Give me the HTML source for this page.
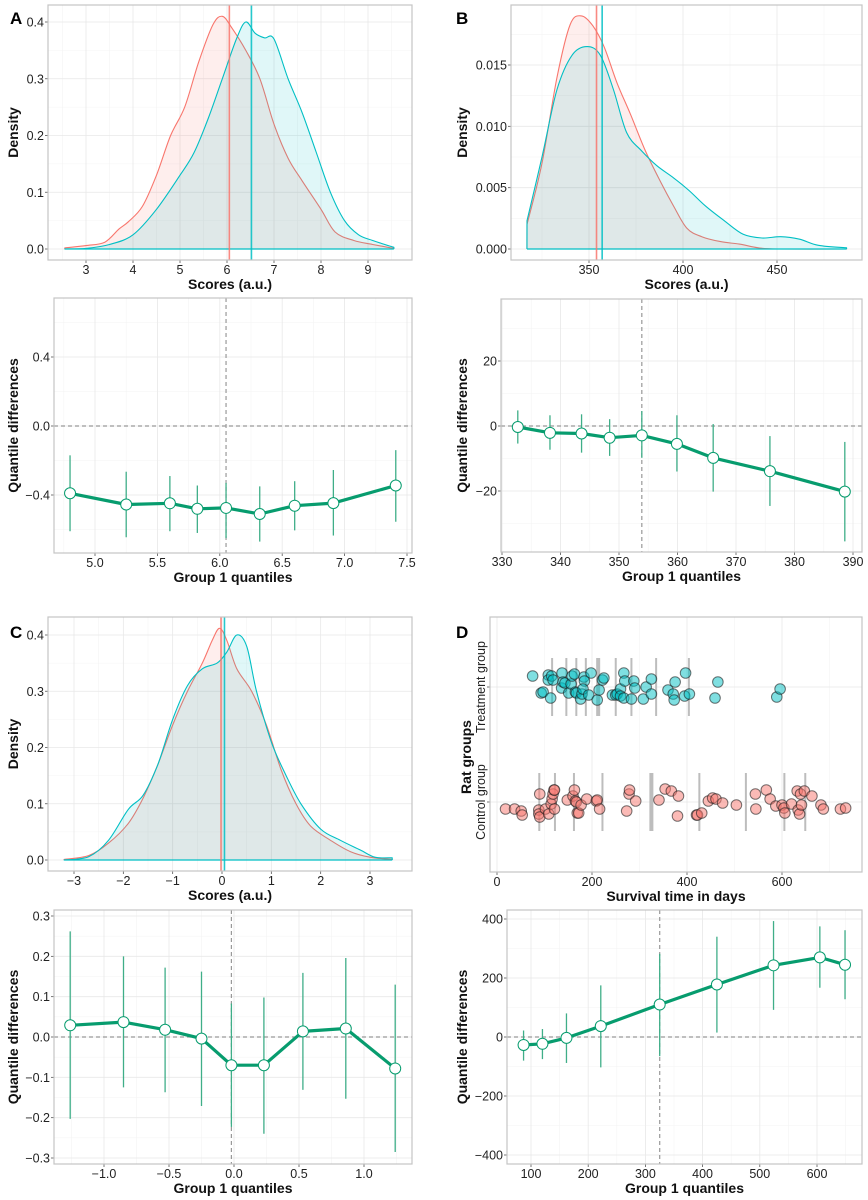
<!DOCTYPE html>
<html><head><meta charset="utf-8">
<style>
body{margin:0;background:#fff;}
svg{display:block;font-family:"Liberation Sans",Arial,sans-serif;}
</style></head>
<body>
<svg id="fig" width="868" height="1200" viewBox="0 0 868 1200" xmlns="http://www.w3.org/2000/svg"></svg>
<script>
// ---------- Data ----------
const aRedX=[2.55,3,3.4,3.7,3.9,4.2,4.5,4.8,5.1,5.4,5.7,5.9,6.1,6.4,6.7,7,7.3,7.6,8,8.3,8.7,9.1,9.55];
const aRedY=[0.002,0.006,0.012,0.035,0.048,0.075,0.13,0.2,0.25,0.33,0.395,0.41,0.39,0.35,0.3,0.22,0.16,0.12,0.07,0.03,0.015,0.008,0.001];
const aTealX=[2.55,3,3.5,4,4.5,5,5.3,5.6,5.9,6.2,6.4,6.6,6.8,7,7.3,7.6,7.9,8.2,8.5,8.8,9.1,9.55];
const aTealY=[0,0.001,0.008,0.025,0.07,0.13,0.17,0.23,0.3,0.37,0.4,0.38,0.372,0.37,0.3,0.24,0.17,0.1,0.05,0.025,0.015,0.003];
const aMedians=[6.05,6.52];
const bRedX=[317,325,333,340,346,352,358,365,372,380,388,395,402,410,420,430,440,450,487];
const bRedY=[0.002,0.007,0.014,0.0183,0.019,0.0182,0.0165,0.0135,0.011,0.008,0.0055,0.0035,0.0017,0.001,0.0006,0.0004,0.0001,0,0];
const bTealX=[317,325,333,341,349,356,363,370,378,386,395,403,412,422,432,442,452,462,472,487];
const bTealY=[0.0023,0.0075,0.013,0.0158,0.0165,0.0158,0.013,0.0095,0.008,0.0068,0.0058,0.0048,0.0035,0.0023,0.0012,0.0009,0.001,0.0008,0.0003,0.0001];
const bMedians=[354,357];
const cRedX=[-3.2,-2.7,-2.3,-1.9,-1.6,-1.3,-1,-0.7,-0.4,-0.2,-0.05,0.1,0.3,0.6,0.9,1.2,1.5,1.8,2.2,2.6,3,3.45];
const cRedY=[0.001,0.008,0.03,0.065,0.11,0.17,0.24,0.3,0.35,0.39,0.412,0.39,0.34,0.3,0.24,0.16,0.1,0.06,0.035,0.015,0.005,0.001];
const cTealX=[-3.2,-2.7,-2.3,-1.9,-1.6,-1.3,-1,-0.7,-0.4,-0.1,0.1,0.3,0.5,0.7,1,1.3,1.6,2,2.4,2.8,3.1,3.45];
const cTealY=[0,0.006,0.035,0.09,0.115,0.17,0.25,0.31,0.34,0.35,0.37,0.4,0.38,0.3,0.21,0.15,0.1,0.055,0.035,0.018,0.005,0.004];
const cMedians=[-0.02,0.05];
const aQx=[4.8,5.25,5.6,5.82,6.05,6.32,6.6,6.91,7.41];
const aQy=[-0.39,-0.455,-0.448,-0.48,-0.475,-0.51,-0.462,-0.447,-0.345];
const aQlo=[-0.61,-0.645,-0.61,-0.62,-0.65,-0.67,-0.605,-0.635,-0.555];
const aQhi=[-0.17,-0.265,-0.29,-0.345,-0.33,-0.35,-0.32,-0.255,-0.14];
const bQx=[332.7,338.2,343.6,348.4,353.9,359.9,366.1,375.8,388.6];
const bQy=[-0.3,-2.1,-2.3,-3.6,-2.9,-5.5,-9.8,-13.9,-20.2];
const bQlo=[-5.4,-7.3,-8.2,-9.2,-9.8,-14,-20.2,-24.6,-35.5];
const bQhi=[4.8,3.3,3.6,2.1,4.6,3.3,0.6,-3.1,-4.9];
const cQx=[-1.26,-0.85,-0.53,-0.25,-0.02,0.23,0.53,0.86,1.24];
const cQy=[0.029,0.037,0.018,-0.004,-0.07,-0.07,0.014,0.021,-0.078];
const cQlo=[-0.203,-0.125,-0.137,-0.171,-0.223,-0.24,-0.131,-0.153,-0.285];
const cQhi=[0.262,0.2,0.172,0.162,0.083,0.098,0.159,0.196,0.13];
const dQx=[87,120,162,222,325,425,524,605,649];
const dQy=[-27,-23,-3,37,110,178,243,270,245];
const dQlo=[-80,-75,-88,-103,-65,15,92,167,128];
const dQhi=[22,27,80,175,282,340,393,375,362];
const treatDays=[75,93,97,108,108,113,115,118,137,136,139,143,151,156,158,163,165,167,176,179,183,184,181,193,198,211,215,222,225,243,250,253,260,260,267,267,269,283,288,290,308,314,325,325,360,371,373,375,395,397,405,459,465,589,596];
const treatJit=[-11,6,5,-12,-7,11,-11,-7,-14,1,-5,-4,6,-3,-11,-13,5,6,12,7,-10,-6,2,8,-14,13,3,-7,-9,8,8,7,2,9,11,-14,-6,12,-6,1,12,0,7,-8,3,7,13,-5,9,-14,7,11,-5,10,2];
const ctrlDays=[18,37,51,53,88,90,88,90,102,109,114,116,118,120,121,121,148,160,163,165,167,169,172,177,189,209,211,216,273,278,279,292,341,354,367,382,380,420,422,431,445,454,461,475,504,544,545,567,575,587,600,604,606,620,632,634,637,639,641,647,663,682,687,723,734];
const ctrlJit=[7,7,9,13,8,-8,12,15,7,12,2,-3,-8,-12,-12,7,-2,-6,-12,-1,0,11,11,3,-3,-1,-2,7,9,-8,-12,-1,-2,-13,-11,-6,14,13,13,11,-1,-4,-3,1,3,-8,7,-12,-3,4,3,6,11,2,-11,8,12,-8,3,-11,-6,3,7,7,6];
const treatDeciles=[116,146,167,187,213,250,283,335,404];
const ctrlDeciles=[89,122,162,222,325,426,524,605,649];

// ---------- Helpers ----------
const NS="http://www.w3.org/2000/svg";
const svg=document.getElementById('fig');
function mk(tag,attrs,parent,text){
  const e=document.createElementNS(NS,tag);
  for(const k in attrs) e.setAttribute(k,attrs[k]);
  if(text!==undefined) e.textContent=text;
  (parent||svg).appendChild(e);
  return e;
}
function lin(d0,p0,d1,p1){return v=>p0+(v-d0)*(p1-p0)/(d1-d0);}
const RED="#F8766D",TEAL="#00BFC4",GREEN="#079c6e",GREENL="#3fae88";

function panel(name,P,xs,ys,xticks,xlabels,yticks,ylabels,xminor,yminor,xtitle,ytitle,ytx){
  const g=mk('g',{});
  
  
  mk('rect',{x:P.x0,y:P.y0,width:P.x1-P.x0,height:P.y1-P.y0,fill:'#fff'},g);
  xminor.forEach(v=>{mk('line',{x1:xs(v),x2:xs(v),y1:P.y0,y2:P.y1,stroke:'#f4f4f4','stroke-width':0.6},g);});
  yminor.forEach(v=>{mk('line',{x1:P.x0,x2:P.x1,y1:ys(v),y2:ys(v),stroke:'#f4f4f4','stroke-width':0.6},g);});
  xticks.forEach(v=>{mk('line',{x1:xs(v),x2:xs(v),y1:P.y0,y2:P.y1,stroke:'#e8e8e8','stroke-width':0.8},g);});
  yticks.forEach(v=>{mk('line',{x1:P.x0,x2:P.x1,y1:ys(v),y2:ys(v),stroke:'#e8e8e8','stroke-width':0.8},g);});
  const xa=mk('g',{},g);
  
  
  xticks.forEach((v,i)=>{
    mk('line',{x1:xs(v),x2:xs(v),y1:P.y1,y2:P.y1+3,stroke:'#555','stroke-width':0.8},xa);
    mk('text',{x:xs(v),y:P.y1+14,'text-anchor':'middle','font-size':12.5,fill:'#222'},xa,xlabels[i]);
  });
  const ya=mk('g',{},g);
  
  
  yticks.forEach((v,i)=>{
    mk('line',{x1:P.x0-3,x2:P.x0,y1:ys(v),y2:ys(v),stroke:'#555','stroke-width':0.8},ya);
    mk('text',{x:P.x0-4,y:ys(v)+4.5,'text-anchor':'end','font-size':12.5,fill:'#222'},ya,ylabels[i]);
  });
  const xt=mk('text',{x:(P.x0+P.x1)/2,y:P.y1+29,'text-anchor':'middle','font-size':14,'font-weight':'bold',fill:'#111'},g,xtitle);
  
  
  const yc=(P.y0+P.y1)/2;
  const yt=mk('text',{x:ytx,y:yc,'text-anchor':'middle','font-size':14,'font-weight':'bold',fill:'#111',transform:`rotate(-90 ${ytx} ${yc})`},g,ytitle);
  
  
  return g;
}
function border(g,P){mk('rect',{x:P.x0,y:P.y0,width:P.x1-P.x0,height:P.y1-P.y0,fill:'none',stroke:'#c4c4c4','stroke-width':1.2},g);}

function smoothPath(pts){
  let d=`M${pts[0][0].toFixed(1)},${pts[0][1].toFixed(1)}`;
  for(let i=0;i<pts.length-1;i++){
    const p0=pts[Math.max(0,i-1)],p1=pts[i],p2=pts[i+1],p3=pts[Math.min(pts.length-1,i+2)];
    const c1x=p1[0]+(p2[0]-p0[0])/6,c1y=p1[1]+(p2[1]-p0[1])/6;
    const c2x=p2[0]-(p3[0]-p1[0])/6,c2y=p2[1]-(p3[1]-p1[1])/6;
    d+=` C${c1x.toFixed(1)},${c1y.toFixed(1)} ${c2x.toFixed(1)},${c2y.toFixed(1)} ${p2[0].toFixed(1)},${p2[1].toFixed(1)}`;
  }
  return d;
}
function density(g,P,xs,ys,X,Y,col,name){
  const pts=X.map((x,i)=>[xs(x),ys(Y[i])]);
  const curve=smoothPath(pts);
  const f=mk('path',{d:curve+` L${xs(X[X.length-1])},${ys(0)} L${xs(X[0])},${ys(0)} Z`,fill:col,'fill-opacity':0.12,stroke:'none'},g);
  
  
  const p=mk('path',{d:`M${xs(X[0])},${ys(0)} L`+curve.slice(1)+` L${xs(X[X.length-1])},${ys(0)}`,fill:'none',stroke:col,'stroke-width':1.1,'stroke-linejoin':'round'},g);
  
  
}
function medLine(g,P,xs,v,col,name){
  const l=mk('line',{x1:xs(v),x2:xs(v),y1:P.y0,y2:P.y1,stroke:col,'stroke-width':1.6,'stroke-opacity':0.85},g);
  
  
}
function densityPanel(name,P,xs,ys,xt,xl,yt,yl,xm,ym,RX,RY,TX,TY,meds,ytx){
  const g=panel(name,P,xs,ys,xt,xl,yt,yl,xm,ym,'Scores (a.u.)','Density',ytx);
  density(g,P,xs,ys,RX,RY,RED,'density-group1');
  density(g,P,xs,ys,TX,TY,TEAL,'density-group2');
  mk('line',{x1:xs(Math.min(RX[0],TX[0])),x2:xs(Math.max(RX[RX.length-1],TX[TX.length-1])),y1:ys(0),y2:ys(0),stroke:TEAL,'stroke-width':1.2},g);
  medLine(g,P,xs,meds[0],RED,'median-group1');
  medLine(g,P,xs,meds[1],TEAL,'median-group2');
  border(g,P);
}
function quantPanel(name,P,xs,ys,xt,xl,yt,yl,xm,ym,QX,QY,QL,QH,vline,ytx){
  const g=panel(name,P,xs,ys,xt,xl,yt,yl,xm,ym,'Group 1 quantiles','Quantile differences',ytx);
  mk('line',{x1:P.x0,x2:P.x1,y1:ys(0),y2:ys(0),stroke:'#999','stroke-width':1.2,'stroke-dasharray':'4,3'},g);
  mk('line',{x1:xs(vline),x2:xs(vline),y1:P.y0,y2:P.y1,stroke:'#999','stroke-width':1.2,'stroke-dasharray':'4,3'},g);
  QX.forEach((x,i)=>{
    const e=mk('line',{x1:xs(x),x2:xs(x),y1:ys(QL[i]),y2:ys(QH[i]),stroke:GREENL,'stroke-width':1.3},g);
    
    
  });
  const pl=mk('polyline',{points:QX.map((x,i)=>xs(x).toFixed(1)+','+ys(QY[i]).toFixed(1)).join(' '),fill:'none',stroke:GREEN,'stroke-width':3.2,'stroke-linejoin':'round'},g);
  
  
  QX.forEach((x,i)=>{
    const c=mk('circle',{cx:xs(x),cy:ys(QY[i]),r:5.5,fill:'#fff',stroke:GREEN,'stroke-width':1},g);
    
    
  });
  border(g,P);
}
function rng(a,b,s){const r=[];for(let v=a;v<=b+1e-9;v+=s)r.push(+v.toFixed(6));return r;}

{const P={x0:48,x1:412,y0:5,y1:260};
 const xs=lin(3,86,9,368), ys=lin(0,249,0.4,22);
 densityPanel('panel-a-density',P,xs,ys,[3,4,5,6,7,8,9],['3','4','5','6','7','8','9'],[0,0.1,0.2,0.3,0.4],['0.0','0.1','0.2','0.3','0.4'],rng(2.5,9.5,1),rng(0.05,0.35,0.1),aRedX,aRedY,aTealX,aTealY,aMedians,18);}
{const P={x0:54,x1:412,y0:298,y1:553};
 const xs=lin(5,95,7.5,407), ys=lin(0,426,0.4,357);
 quantPanel('panel-a-quantiles',P,xs,ys,[5,5.5,6,6.5,7,7.5],['5.0','5.5','6.0','6.5','7.0','7.5'],[-0.4,0,0.4],['\u22120.4','0.0','0.4'],rng(4.75,7.25,0.5),[-0.6,-0.2,0.2,0.6],aQx,aQy,aQlo,aQhi,6.05,18);}
{const P={x0:511,x1:862,y0:5,y1:260};
 const xs=lin(350,589,450,777), ys=lin(0,249,0.015,65);
 densityPanel('panel-b-density',P,xs,ys,[350,400,450],['350','400','450'],[0,0.005,0.01,0.015],['0.000','0.005','0.010','0.015'],[325,375,425,475],[0.0025,0.0075,0.0125,0.0175],bRedX,bRedY,bTealX,bTealY,bMedians,467);}
{const P={x0:501,x1:862,y0:299,y1:552};
 const xs=lin(330,502,390,853), ys=lin(0,426,20,361);
 quantPanel('panel-b-quantiles',P,xs,ys,rng(330,390,10),['330','340','350','360','370','380','390'],[-20,0,20],['\u221220','0','20'],rng(335,385,10),[-30,-10,10,30],bQx,bQy,bQlo,bQhi,353.9,467);}
{const P={x0:48,x1:412,y0:617,y1:871};
 const xs=lin(-3,74,3,370), ys=lin(0,860,0.4,635);
 densityPanel('panel-c-density',P,xs,ys,[-3,-2,-1,0,1,2,3],['\u22123','\u22122','\u22121','0','1','2','3'],[0,0.1,0.2,0.3,0.4],['0.0','0.1','0.2','0.3','0.4'],rng(-2.5,2.5,1),rng(0.05,0.35,0.1),cRedX,cRedY,cTealX,cTealY,cMedians,18);}
{const P={x0:54,x1:412,y0:910,y1:1164};
 const xs=lin(-1,104,1,364), ys=lin(0,1037,0.3,916);
 quantPanel('panel-c-quantiles',P,xs,ys,[-1,-0.5,0,0.5,1],['\u22121.0','\u22120.5','0.0','0.5','1.0'],rng(-0.3,0.3,0.1),['\u22120.3','\u22120.2','\u22120.1','0.0','0.1','0.2','0.3'],[-1.25,-0.75,-0.25,0.25,0.75,1.25],rng(-0.25,0.25,0.1),cQx,cQy,cQlo,cQhi,-0.02,18);}
{const P={x0:490,x1:862,y0:617,y1:872};
 const xs=lin(0,497,600,782);
 const yT=687,yC=802;
 const g=mk('g',{});
 
 
 mk('rect',{x:P.x0,y:P.y0,width:P.x1-P.x0,height:P.y1-P.y0,fill:'#fff'},g);
 [100,300,500,700].forEach(v=>mk('line',{x1:xs(v),x2:xs(v),y1:P.y0,y2:P.y1,stroke:'#f4f4f4','stroke-width':0.6},g));
 [0,200,400,600].forEach(v=>mk('line',{x1:xs(v),x2:xs(v),y1:P.y0,y2:P.y1,stroke:'#e8e8e8','stroke-width':0.8},g));
 [yT,yC].forEach(y=>mk('line',{x1:P.x0,x2:P.x1,y1:y,y2:y,stroke:'#e8e8e8','stroke-width':0.8},g));
 [0,200,400,600].forEach(v=>{
   mk('line',{x1:xs(v),x2:xs(v),y1:P.y1,y2:P.y1+3,stroke:'#555','stroke-width':0.8},g);
   mk('text',{x:xs(v),y:P.y1+14,'text-anchor':'middle','font-size':12.5,fill:'#222'},g,String(v));
 });
 [yT,yC].forEach(y=>mk('line',{x1:P.x0-3,x2:P.x0,y1:y,y2:y,stroke:'#555','stroke-width':0.8},g));
 const t1=mk('text',{x:485,y:yT,'text-anchor':'middle','font-size':12.5,fill:'#222',transform:`rotate(-90 485 ${yT})`},g,'Treatment group');
  
 const t2=mk('text',{x:485,y:yC,'text-anchor':'middle','font-size':12.5,fill:'#222',transform:`rotate(-90 485 ${yC})`},g,'Control group');
  
 const yt=mk('text',{x:471,y:757,'text-anchor':'middle','font-size':14,'font-weight':'bold',fill:'#111',transform:'rotate(-90 471 757)'},g,'Rat groups');
  
 const xt=mk('text',{x:676,y:P.y1+29,'text-anchor':'middle','font-size':14,'font-weight':'bold',fill:'#111'},g,'Survival time in days');
  
 treatDeciles.forEach((v,i)=>{const l=mk('line',{x1:xs(v),x2:xs(v),y1:yT-29,y2:yT+29,stroke:'#bdbdbd','stroke-width':i===4?4:2},g);});
 ctrlDeciles.forEach((v,i)=>{const l=mk('line',{x1:xs(v),x2:xs(v),y1:yC-29,y2:yC+29,stroke:'#bdbdbd','stroke-width':i===4?4:2},g);});
 treatDays.forEach((v,i)=>{const c=mk('circle',{cx:xs(v),cy:yT+treatJit[i],r:5.3,fill:TEAL,'fill-opacity':0.5,stroke:'#1a1a1a','stroke-opacity':0.6,'stroke-width':1},g);});
 ctrlDays.forEach((v,i)=>{const c=mk('circle',{cx:xs(v),cy:yC+ctrlJit[i],r:5.3,fill:RED,'fill-opacity':0.5,stroke:'#1a1a1a','stroke-opacity':0.6,'stroke-width':1},g);});
 border(g,P);}
{const P={x0:507,x1:862,y0:910,y1:1164};
 const xs=lin(100,531,600,817), ys=lin(0,1037,400,919);
 quantPanel('panel-d-quantiles',P,xs,ys,rng(100,600,100),['100','200','300','400','500','600'],[-400,-200,0,200,400],['\u2212400','\u2212200','0','200','400'],rng(150,650,100),[-300,-100,100,300],dQx,dQy,dQlo,dQhi,325,467);}
[['A',10,24],['B',456,24],['C',10,638],['D',456,638]].forEach(([t,x,y])=>{
  const e=mk('text',{x:x,y:y,'font-size':17,'font-weight':'bold',fill:'#000'},svg,t);
  
  
});
</script>
</body></html>
